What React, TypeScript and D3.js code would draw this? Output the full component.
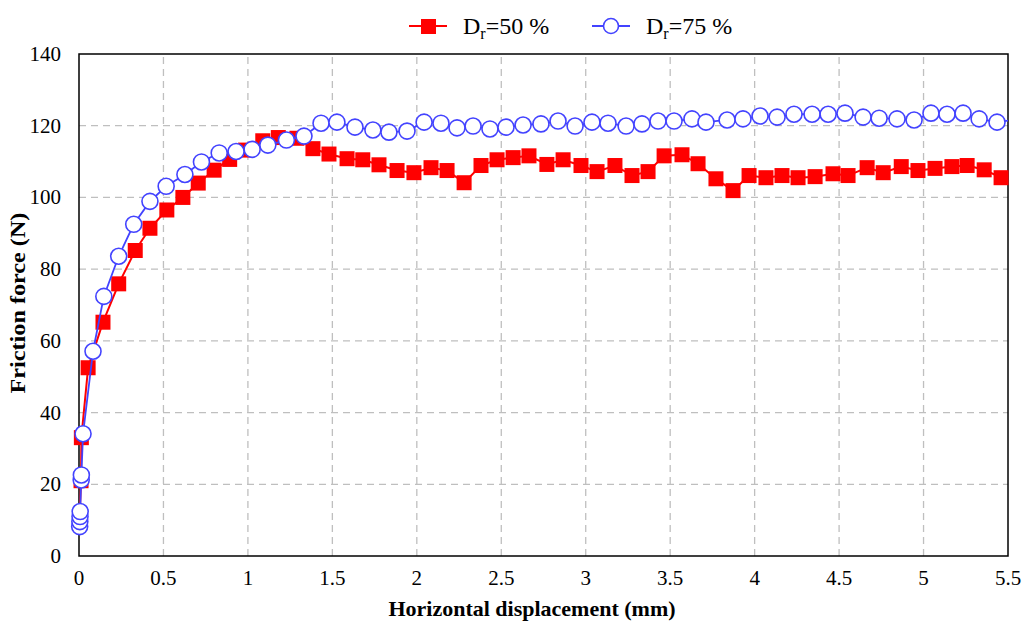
import * as d3 from 'd3'

const WIDTH = 1022
const HEIGHT = 621
const MARGIN = { top: 54, right: 14, bottom: 65, left: 79 }

// Dr = 50 %
const redX = [
  0.003, 0.012, 0.014, 0.054, 0.142, 0.235, 0.333, 0.42, 0.52, 0.615, 0.706, 0.8, 0.892, 0.986,
  1.088, 1.18, 1.29, 1.385, 1.48, 1.587, 1.68, 1.776, 1.883, 1.983, 2.084, 2.179, 2.28, 2.38,
  2.475, 2.57, 2.664, 2.77, 2.866, 2.972, 3.067, 3.173, 3.274, 3.369, 3.464, 3.57, 3.665, 3.771,
  3.872, 3.967, 4.067, 4.162, 4.257, 4.358, 4.464, 4.553, 4.666, 4.761, 4.868, 4.967, 5.068,
  5.168, 5.258, 5.359, 5.459,
]
const redY = [
  10, 21, 33, 52.5, 65.2, 75.9, 85.2, 91.4, 96.5, 100, 104, 107.6, 110.6, 113.2, 115.8, 116.7,
  116.5, 113.6, 112.1, 110.8, 110.5, 109.1, 107.5, 106.9, 108.3, 107.5, 104.1, 108.9, 110.5,
  111.1, 111.6, 109.2, 110.5, 108.9, 107.2, 108.9, 106.1, 107.2, 111.6, 111.9, 109.4, 105.2,
  101.9, 106.1, 105.5, 106.1, 105.5, 105.8, 106.6, 106.1, 108.3, 106.9, 108.6, 107.5, 108.1,
  108.6, 108.9, 107.7, 105.5,
]

// Dr = 75 %
const blueX = [
  0.004, 0.005, 0.006, 0.007, 0.013, 0.014, 0.024, 0.083, 0.147, 0.235, 0.324, 0.42, 0.516,
  0.627, 0.725, 0.83, 0.93, 1.025, 1.118, 1.228, 1.332, 1.433, 1.527, 1.634, 1.74, 1.835, 1.942,
  2.043, 2.143, 2.238, 2.333, 2.433, 2.528, 2.629, 2.735, 2.836, 2.937, 3.037, 3.132, 3.239,
  3.333, 3.428, 3.523, 3.629, 3.712, 3.837, 3.931, 4.032, 4.133, 4.233, 4.34, 4.435, 4.535,
  4.642, 4.737, 4.843, 4.944, 5.044, 5.139, 5.234, 5.329, 5.435, 5.53,
]
const blueY = [
  8.2, 9.6, 11, 12.4, 21.2, 22.6, 34.1, 57.1, 72.4, 83.6, 92.5, 98.9, 103.1, 106.4, 109.9, 112.4,
  112.8, 113.4, 114.6, 116, 117.1, 120.7, 121, 119.6, 118.8, 118.2, 118.5, 121, 120.7, 119.4,
  119.9, 119.1, 119.6, 120.2, 120.5, 121.3, 119.9, 121, 120.7, 119.9, 120.5, 121.3, 121.3,
  121.9, 121, 121.6, 121.9, 122.7, 122.4, 123.2, 123.2, 123.2, 123.5, 122.4, 122.1, 121.9,
  121.6, 123.5, 123.2, 123.5, 121.9, 121, 121.6,
]

const xTicks = [0, 0.5, 1, 1.5, 2, 2.5, 3, 3.5, 4, 4.5, 5, 5.5]
const yTicks = [0, 20, 40, 60, 80, 100, 120, 140]

const RED = '#ff0000'
const BLUE = '#4343ff'
const FONT = "'Liberation Serif', 'Times New Roman', 'DejaVu Serif', serif"

export default function App() {
  const innerW = WIDTH - MARGIN.left - MARGIN.right
  const innerH = HEIGHT - MARGIN.top - MARGIN.bottom

  const x = d3.scaleLinear().domain([0, 5.5]).range([MARGIN.left, MARGIN.left + innerW])
  const y = d3.scaleLinear().domain([0, 140]).range([MARGIN.top + innerH, MARGIN.top])

  const red = redX.map((v, i) => [v, redY[i]] as [number, number])
  const blue = blueX.map((v, i) => [v, blueY[i]] as [number, number])

  const line = d3
    .line<[number, number]>()
    .x((d) => x(d[0]))
    .y((d) => y(d[1]))

  const x0 = x(0)
  const x1 = x(5.5)
  const y0 = y(0)
  const y1 = y(140)

  return (
    <svg
      width={WIDTH}
      height={HEIGHT}
      style={{ position: 'absolute', left: 0, top: 0, background: '#fff', fontFamily: FONT }}
    >
      <defs>
        <clipPath id="plot-clip">
          <rect x={x0} y={y1 - 10} width={x1 - x0} height={y0 - y1 + 20} />
        </clipPath>
      </defs>

      {/* grid */}
      {yTicks.slice(1, -1).map((t) => (
        <line
          key={'gy' + t}
          x1={x0}
          x2={x1}
          y1={y(t)}
          y2={y(t)}
          stroke="#bfbfbf"
          strokeWidth={1.3}
          strokeDasharray="7,5"
        />
      ))}
      {xTicks.slice(1, -1).map((t) => (
        <line
          key={'gx' + t}
          x1={x(t)}
          x2={x(t)}
          y1={y0}
          y2={y1}
          stroke="#bfbfbf"
          strokeWidth={1.3}
          strokeDasharray="7,5"
        />
      ))}

      {/* frame */}
      <rect x={x0} y={y1} width={x1 - x0} height={y0 - y1} fill="none" stroke="#000" strokeWidth={1.5} />

      {/* tick labels */}
      {yTicks.map((t) => (
        <text key={'ty' + t} x={61} y={y(t) + 7} textAnchor="end" fontSize={21}>
          {t}
        </text>
      ))}
      {xTicks.map((t) => (
        <text key={'tx' + t} x={x(t)} y={585} textAnchor="middle" fontSize={21}>
          {t}
        </text>
      ))}

      {/* axis titles */}
      <text
        transform={`translate(25, ${(y0 + y1) / 2 - 2}) rotate(-90) scale(1.1, 1)`}
        textAnchor="middle"
        fontSize={22}
        fontWeight="bold"
      >
        Friction force (N)
      </text>
      <text x={532} y={616} textAnchor="middle" fontSize={22} fontWeight="bold">
        Horizontal displacement (mm)
      </text>

      {/* series */}
      <g clipPath="url(#plot-clip)">
        <path d={line(red) ?? ''} fill="none" stroke={RED} strokeWidth={2} />
      </g>
      {red.map((d, i) => (
        <rect key={'r' + i} x={x(d[0]) - 7.5} y={y(d[1]) - 7.5} width={15} height={15} fill={RED} />
      ))}
      <g clipPath="url(#plot-clip)">
        <path d={line(blue) ?? ''} fill="none" stroke={BLUE} strokeWidth={1.8} />
      </g>
      {blue
        .filter((d) => d[0] <= 5.5)
        .map((d, i) => (
          <circle key={'b' + i} cx={x(d[0])} cy={y(d[1])} r={8} fill="#fff" stroke={BLUE} strokeWidth={1.6} />
        ))}

      {/* legend */}
      <g>
        <line x1={409} x2={447} y1={26} y2={26} stroke={RED} strokeWidth={2} />
        <rect x={421} y={19} width={15} height={15} fill={RED} />
        <text x={463} y={34} fontSize={24}>
          D<tspan fontSize={16} dy={5}>r</tspan>
          <tspan dy={-5}>=50 %</tspan>
        </text>
        <line x1={592} x2={630} y1={26} y2={26} stroke={BLUE} strokeWidth={1.8} />
        <circle cx={611} cy={26} r={7.5} fill="#fff" stroke={BLUE} strokeWidth={1.6} />
        <text x={646} y={34} fontSize={24}>
          D<tspan fontSize={16} dy={5}>r</tspan>
          <tspan dy={-5}>=75 %</tspan>
        </text>
      </g>
    </svg>
  )
}
